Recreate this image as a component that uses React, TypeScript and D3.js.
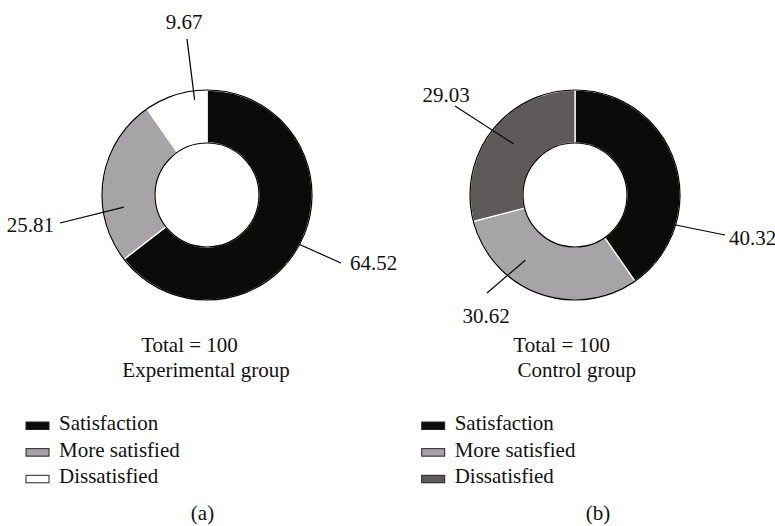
import * as d3 from "d3";
import React from "react";

// categories + values
const categories = ["Satisfaction", "More satisfied", "Dissatisfied"];
const experimentalValues = [64.52, 25.81, 9.67];
const controlValues = [40.32, 30.62, 29.03];

const experimentalColors = ["#0b0b09", "#a6a4a7", "#ffffff"];
const controlColors = ["#0b0b09", "#a6a4a7", "#5e5a59"];

const W = 775;
const H = 526;
const R_OUT = 105;
const R_IN = 52;
const FONT = "'Liberation Serif', 'Times New Roman', serif";
const FS = 21;

// leader line layout per slice: angle shift from slice middle (deg), anchor radius,
// line end and text position relative to the donut centre
type LabelLayout = { shift: number, r: number, end: [number, number], text: [number, number], anchor: string }

const experimentalLabels: LabelLayout[] = [
  { shift: 2, r: 105, end: [134, 68], text: [143, 75], anchor: "start" },
  { shift: -17, r: 84, end: [-147, 28], text: [-153, 37], anchor: "end" },
  { shift: 10, r: 96, end: [-20, -156], text: [-23, -166], anchor: "middle" },
];
const controlLabels: LabelLayout[] = [
  { shift: 34, r: 105, end: [150, 40], text: [154, 50], anchor: "start" },
  { shift: 17, r: 82, end: [-88, 98], text: [-89, 128], anchor: "middle" },
  { shift: 2, r: 80, end: [-120, -89], text: [-129, -93], anchor: "middle" },
];

type DonutProps = {
  cx: number, cy: number, values: number[], colors: string[], labels: LabelLayout[],
  total: string, group: string, totalX: number, groupX: number,
  legendX: number, tag: string, tagX: number
}

const Donut: React.FC<DonutProps> = ({ cx, cy, values, colors, labels, total, group, totalX, groupX, legendX, tag, tagX }) => {
  const pie = d3.pie<number>().sort(null).value(d => d)
  const arcs = pie(values)
  const arc = d3.arc<d3.PieArcDatum<number>>().innerRadius(R_IN).outerRadius(R_OUT)
  const legendY = d3.scalePoint<string>().domain(categories).range([430, 483.3])

  return (
    <g>
      <g transform={`translate(${cx},${cy})`}>
        {arcs.map((a, i) =>
          <path key={i} d={arc(a) || ""} fill={colors[i]} stroke="#fff" strokeWidth={1.3} />)}
        <circle r={R_OUT} fill="none" stroke="#000" strokeWidth={1.2} />
        <circle r={R_IN} fill="none" stroke="#000" strokeWidth={1.2} />
        {arcs.map((a, i) => {
          const l = labels[i]
          const mid = (a.startAngle + a.endAngle) / 2 + l.shift * Math.PI / 180
          const [px, py] = d3.pointRadial(mid, l.r)
          return (
            <g key={"l" + i}>
              <line x1={px} y1={py} x2={l.end[0]} y2={l.end[1]} stroke="#000" strokeWidth={1.2} />
              <text x={l.text[0]} y={l.text[1]} textAnchor={l.anchor} fontSize={FS} fontFamily={FONT} fill="#111">
                {values[i].toFixed(2)}
              </text>
            </g>
          )
        })}
      </g>
      <text x={totalX} y={351.7} textAnchor="middle" fontSize={FS} fontFamily={FONT} fill="#111">{total}</text>
      <text x={groupX} y={376.7} textAnchor="middle" fontSize={FS} fontFamily={FONT} fill="#111">{group}</text>
      {categories.map((c, i) => (
        <g key={c}>
          <rect x={legendX} y={(legendY(c) || 0) - 8} width={23} height={7.5}
                fill={colors[i]} stroke="#222" strokeWidth={1} />
          <text x={legendX + 33} y={legendY(c)} fontSize={FS} fontFamily={FONT} fill="#111">{c}</text>
        </g>
      ))}
      <text x={tagX} y={520} textAnchor="middle" fontSize={FS} fontFamily={FONT} fill="#111">{tag}</text>
    </g>
  )
}

const App: React.FC = () => {
  return (
    <div style={{ position: "fixed", left: 0, top: 0 }}>
      <svg width={W} height={H} style={{ display: "block", background: "#fff" }}>
        <Donut cx={207} cy={195} values={experimentalValues} colors={experimentalColors} labels={experimentalLabels}
               total="Total = 100" group="Experimental group" totalX={189.5} groupX={206}
               legendX={26} tag="(a)" tagX={202.5} />
        <Donut cx={575} cy={195} values={controlValues} colors={controlColors} labels={controlLabels}
               total="Total = 100" group="Control group" totalX={561.7} groupX={576.7}
               legendX={421.7} tag="(b)" tagX={598} />
      </svg>
    </div>
  )
}

export default App
